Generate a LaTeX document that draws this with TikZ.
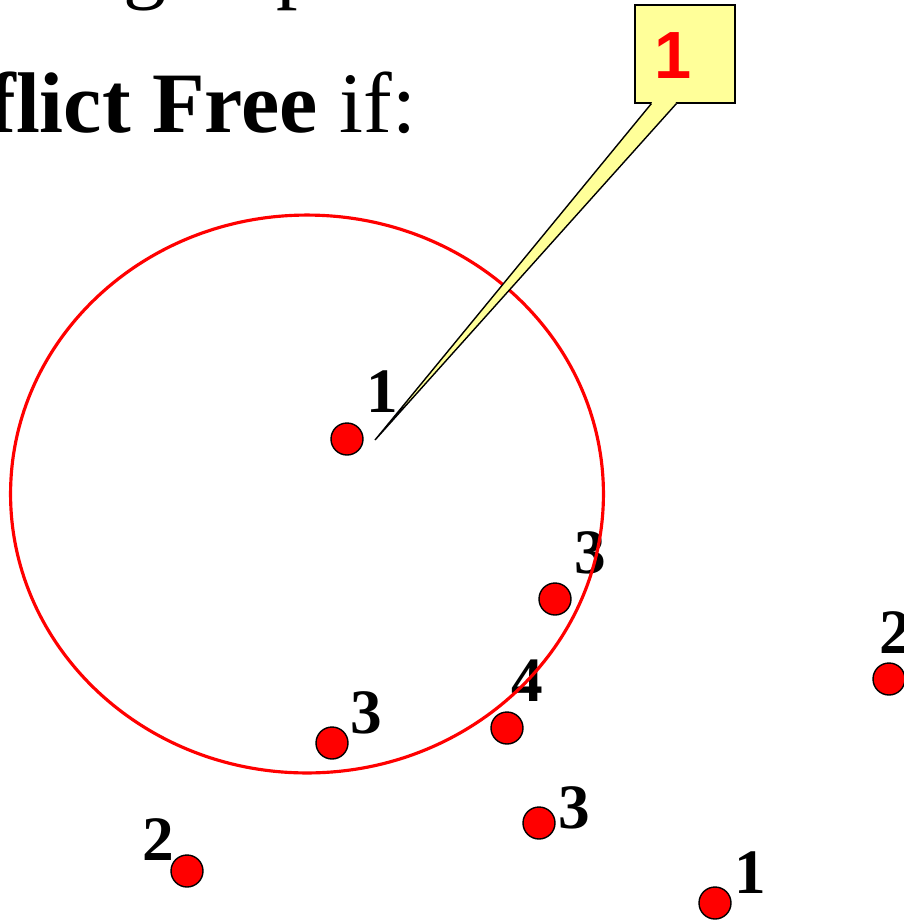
\documentclass[tikz,border=0pt]{standalone}
\usepackage{fontspec}
\setmainfont{Liberation Serif}
\newfontfamily\tagfont{Liberation Sans}
\usepackage{tikz}
\usetikzlibrary{calc}
\definecolor{dotred}{HTML}{FF0000}
\definecolor{tagyellow}{HTML}{FFFF99}
\tikzset{
  dot/.style={circle,draw=black,line width=0.8pt,fill=dotred,minimum size=0.64cm,inner sep=0pt},
  num/.style={font=\fontsize{36}{36}\selectfont\bfseries,inner sep=0pt},
  rangeline/.style={draw=dotred,line width=1.8pt},
  tagbox/.style={draw=black,line width=0.8pt,fill=tagyellow,minimum width=2cm,minimum height=1.96cm,inner sep=0pt},
  tagnum/.style={font=\tagfont\fontsize{38}{38}\selectfont\bfseries,text=dotred,inner sep=0pt},
  title/.style={font=\fontsize{49}{49}\selectfont,inner sep=0pt,anchor=base west}
}
\begin{document}
\begin{tikzpicture}[x=0.02cm,y=-0.02cm]
  \useasboundingbox (0,0) rectangle (904,921);
  \clip (0,0) rectangle (904,921);
  % slide text, cut off at the top and left
  \node[title] (topg) at (123,-8) {g};
  \node[title] (topp) at (276,-8) {p};
  \node[title] (head) at (-13,132) {\textbf{flict Free} if:};
  % colored points
  \foreach \i/\x/\y/\lx/\ly/\lab in {1/347/439/382/392/1,2/555/599/590/553/3,3/889/679/895/633/2,
      4/332/743/366/713/3,5/507/728/527/681/4,6/539/823/574/808/3,7/187/871/158/840/2,8/715/903/750/873/1} {
    \node[dot] (p\i) at (\x,\y) {};
    \node[num] (n\i) at (\lx,\ly) {\lab};
  }
  % the range
  \draw[rangeline] (307,494) ellipse [x radius=5.93cm, y radius=5.58cm];
  % callout
  \node[tagbox] (tag) at (685,54) {};
  \node[tagnum] (tagnum) at (673,56) {1};
  \coordinate (tagtip) at (375,440);
  \coordinate (tagl) at ($(tag.south west)+(17,0)$);
  \coordinate (tagr) at ($(tag.south west)+(42,0)$);
  \fill[tagyellow] ($(tagl)+(1,-2)$) -- (tagl) -- (tagtip) -- (tagr) -- ($(tagr)+(-1,-2)$) -- cycle;
  \draw[line width=0.8pt] (tagl) -- (tagtip) -- (tagr);
\end{tikzpicture}
\end{document}
